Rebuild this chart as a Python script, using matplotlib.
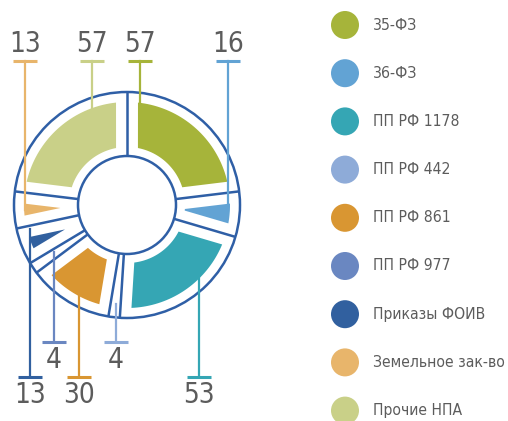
import numpy as np
import matplotlib
matplotlib.use("Agg")
import matplotlib.pyplot as plt
from matplotlib.patches import Polygon, Circle
from matplotlib import font_manager
from matplotlib.ft2font import FT2Font

# данные
labels = ["35-ФЗ", "36-ФЗ", "ПП РФ 1178", "ПП РФ 442", "ПП РФ 861",
          "ПП РФ 977", "Приказы ФОИВ", "Земельное зак-во", "Прочие НПА"]
values = [57, 16, 53, 4, 30, 4, 13, 13, 57]
colors = ["#a6b43a", "#62a3d4", "#35a6b4", "#8eabd8", "#d99632",
          "#6a87c1", "#31609f", "#e8b56b", "#c9d088"]

# подписи: x позиция, сверху/снизу, радиус конца выноски
label_x = [140, 228, 199, 116, 79, 54, 30, 25, 92]
label_top = [True, True, False, False, False, False, False, True, True]
label_r = [100, 100, 100, 100, 100, 87, 100, 100, 100]


# узкий шрифт с кириллицей, если найдётся
def has_cyr(path):
    try:
        cm = FT2Font(path).get_charmap()
        return ord("П") in cm and ord("Ф") in cm
    except Exception:
        return False


narrow = [f for f in font_manager.fontManager.ttflist
          if ("Narrow" in f.name or "Condensed" in f.name or f.stretch == "condensed")
          and f.weight in (400, "normal", "regular") and f.style == "normal"
          and has_cyr(f.fname)]
fam = [narrow[0].name] if narrow else []
stretch = narrow[0].stretch if narrow else "condensed"
plt.rcParams["font.family"] = fam + ["DejaVu Sans"]
TEXT = "#5c5c5c"
RING = "#2f5fa6"

W, H = 508, 421
fig = plt.figure(figsize=(W / 100, H / 100), dpi=100)
ax = fig.add_axes([0, 0, 1, 1])
ax.set_xlim(0, W)
ax.set_ylim(H, 0)
ax.set_aspect("equal")
ax.axis("off")

cx, cy = 127, 205
r_in, r_out = 49, 113
f_in, f_out = 58, 103
margin = 11

total = sum(values)
spans = np.array(values) / total * 2 * np.pi
edges = np.pi / 2 - np.concatenate([[0], np.cumsum(spans)])


def pt(r, a):
    # y в пикселях идёт вниз
    return cx + r * np.cos(a), cy - r * np.sin(a)


# заливка секторов
for i in range(len(values)):
    a1, a2 = edges[i], edges[i + 1]
    span = a1 - a2
    r0 = max(f_in, 2 * margin / span + 0.5)
    if r0 >= f_out:
        continue
    outer = np.linspace(a1 - margin / f_out, a2 + margin / f_out, 40)
    inner = np.linspace(a2 + margin / r0, a1 - margin / r0, 40)
    xy = [pt(f_out, a) for a in outer] + [pt(r0, a) for a in inner]
    ax.add_patch(Polygon(xy, closed=True, facecolor=colors[i], edgecolor="none", zorder=2))

# контур кольца
ax.add_patch(Circle((cx, cy), r_out, fill=False, edgecolor=RING, lw=1.8, zorder=3))
ax.add_patch(Circle((cx, cy), r_in, fill=False, edgecolor=RING, lw=1.8, zorder=3))
for a in edges[:-1]:
    x0, y0 = pt(r_in, a)
    x1, y1 = pt(r_out, a)
    ax.plot([x0, x1], [y0, y1], color=RING, lw=1.8, zorder=3, solid_capstyle="butt")

# выноски
for i in range(len(values)):
    x = label_x[i]
    dx = x - cx
    dy = np.sqrt(max(label_r[i] ** 2 - dx ** 2, 0))
    if label_top[i]:
        y_end = cy - dy
        y_cap, y_txt = 61, 44
    else:
        y_end = cy + dy
        if values[i] <= 4:
            y_cap, y_txt = 342, 360
        else:
            y_cap, y_txt = 377, 395
    if abs(dx) >= label_r[i]:
        y_end = cy + 5
    ax.plot([x, x], [y_cap, y_end], color=colors[i], lw=1.6, zorder=4)
    ax.plot([x - 12, x + 12], [y_cap, y_cap], color=colors[i], lw=2.2, zorder=4,
            solid_capstyle="butt")
    ax.text(x, y_txt, str(values[i]), color=TEXT, fontsize=20, fontstretch=stretch,
            ha="center", va="center", zorder=5)

# легенда
leg_texts = []
for i, lab in enumerate(labels):
    y = 25 + i * 48.2
    ax.add_patch(Circle((345, y), 14, facecolor=colors[i], edgecolor="none"))
    leg_texts.append(ax.text(373, y, lab, color=TEXT, fontsize=15, fontstretch=stretch,
                             ha="left", va="center"))

# подогнать размер подписей легенды под ширину
fig.canvas.draw()
r = fig.canvas.get_renderer()
widest = max(t.get_window_extent(r).width for t in leg_texts)
size = min(17, 15 * 132 / widest)
for t in leg_texts:
    t.set_fontsize(size)

fig.savefig("out.png", dpi=100)
